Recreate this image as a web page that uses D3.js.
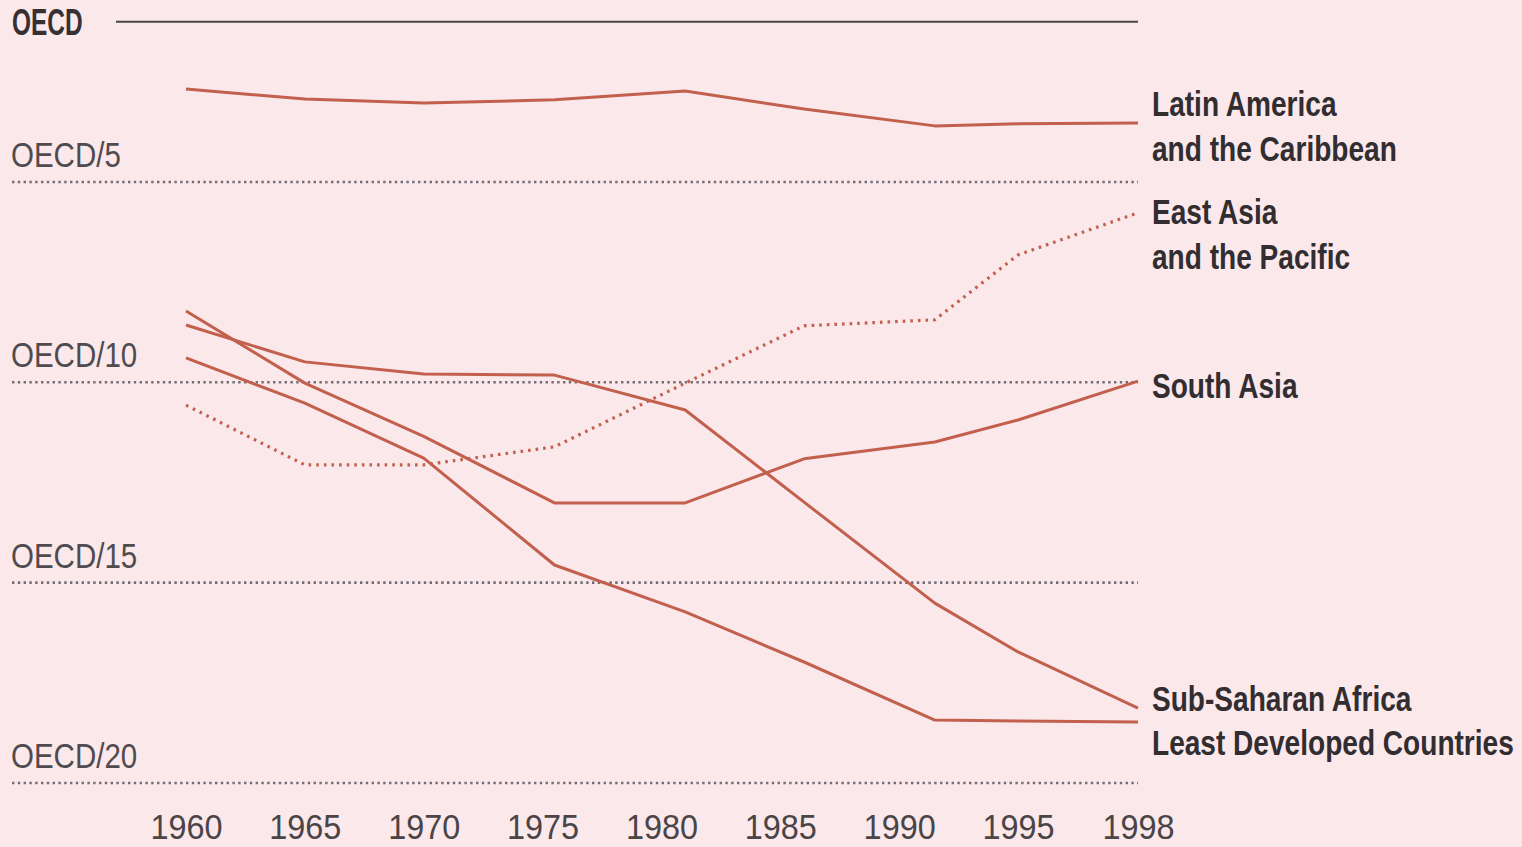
<!DOCTYPE html>
<html>
<head>
<meta charset="utf-8">
<script src="https://cdn.jsdelivr.net/npm/d3@7"></script>
<style>
  body { margin: 0; background: #fae8eb; }
  svg { display: block; }
  .narrow { font-family: "Liberation Sans", Arial, sans-serif; }
</style>
</head>
<body>
<script>
/* Data: GDP per capita expressed as a fraction of the OECD level (OECD/n) */
var years = [1960, 1965, 1970, 1975.5, 1981, 1986, 1991.5, 1995, 1998];
var latinAmerica = [2.68, 2.93, 3.03, 2.95, 2.73, 3.18, 3.60, 3.55, 3.53];
var eastAsia = [10.57, 12.06, 12.06, 11.61, 10.02, 8.59, 8.44, 6.82, 5.77];
var southAsia = [8.22, 10.02, 11.35, 13.01, 13.01, 11.91, 11.49, 10.94, 9.97];
var subSaharanAfrica = [8.57, 9.49, 9.79, 9.82, 10.69, 12.99, 15.51, 16.73, 18.13];
var leastDeveloped = [9.39, 10.52, 11.89, 14.56, 15.73, 16.98, 18.43, 18.45, 18.48];

var tickYears = [1960, 1965, 1970, 1975, 1980, 1985, 1990, 1995, 1998];
var levels = [5, 10, 15, 20];
var levelLabels = ["OECD/5", "OECD/10", "OECD/15", "OECD/20"];

var seriesList = [
	{name: "Latin America", values: latinAmerica, dotted: false},
	{name: "East Asia", values: eastAsia, dotted: true},
	{name: "South Asia", values: southAsia, dotted: false},
	{name: "Sub-Saharan Africa", values: subSaharanAfrica, dotted: false},
	{name: "Least Developed Countries", values: leastDeveloped, dotted: false}
];

// right hand labels, one entry per text line
var labelLines = [
	{text: "Latin America", y: 116},
	{text: "and the Caribbean", y: 161},
	{text: "East Asia", y: 224},
	{text: "and the Pacific", y: 269},
	{text: "South Asia", y: 398},
	{text: "Sub-Saharan Africa", y: 711},
	{text: "Least Developed Countries", y: 755}
];

/* Display setup */
var width = 1522, height = 847,
	lineColor = "#c2604d",
	x = d3.scaleLinear().domain([1960, 1995, 1998]).range([186, 1018, 1138]),
	y = d3.scaleLinear().domain([1, 20]).range([21.7, 783]),
	svg = d3.select("body").append("svg")
		.attr("width", width)
		.attr("height", height);

// squeeze text horizontally around its anchor point
function squeeze(x0, k) {
	return "translate(" + x0 + ",0) scale(" + k + ",1) translate(" + (-x0) + ",0)";
}

svg.append("rect").attr("width", width).attr("height", height).style("fill", "#fae8eb");

/* OECD reference line */
svg.append("line")
	.attr("x1", 116).attr("x2", x(1998))
	.attr("y1", y(1)).attr("y2", y(1))
	.style("stroke", "#4a4446").style("stroke-width", 2);

svg.append("text")
	.attr("class", "narrow")
	.attr("x", 12).attr("y", y(1) + 13)
	.attr("transform", squeeze(12, 0.66))
	.style("font-size", "37px").style("font-weight", "bold").style("fill", "#363033")
	.text("OECD");

/* Dotted levels */
var grid = svg.append("g");
grid.selectAll("line")
	.data(levels)
	.enter().append("line")
		.attr("x1", 12).attr("x2", x(1998))
		.attr("y1", function(d) { return y(d); })
		.attr("y2", function(d) { return y(d); })
		.style("stroke", "#736d77")
		.style("stroke-width", 2.6)
		.style("stroke-dasharray", "2.4,3.4");

grid.selectAll("text")
	.data(levels)
	.enter().append("text")
		.attr("class", "narrow")
		.attr("x", 11)
		.attr("y", function(d) { return y(d) - 15; })
		.attr("transform", squeeze(11, 0.82))
		.style("font-size", "36px").style("fill", "#504b4e")
		.text(function(d, i) { return levelLabels[i]; });

/* Axis */
var xAxis = d3.axisBottom(x)
	.tickValues(tickYears)
	.tickSize(0)
	.tickPadding(0)
	.tickFormat(d3.format("d"));

var axisG = svg.append("g")
	.attr("transform", "translate(0,813)")
	.attr("font-family", null).attr("font-size", null)
	.call(xAxis);
axisG.select(".domain").remove();
axisG.selectAll("text")
	.attr("class", "narrow")
	.attr("dy", "0.71em")
	.attr("transform", "scale(0.9,1)")
	.style("font-size", "36px")
	.style("fill", "#4a4446");

/* Lines */
var line = d3.line()
	.x(function(d, i) { return x(years[i]); })
	.y(function(d) { return y(d); });

svg.append("g").selectAll("path")
	.data(seriesList)
	.enter().append("path")
		.attr("d", function(d) { return line(d.values); })
		.style("fill", "none")
		.style("stroke", lineColor)
		.style("stroke-width", function(d) { return d.dotted ? 3.2 : 3; })
		.style("stroke-dasharray", function(d) { return d.dotted ? "2.6,5" : null; })
		.style("stroke-linejoin", "round");

/* Series labels */
svg.append("g").selectAll("text")
	.data(labelLines)
	.enter().append("text")
		.attr("class", "narrow")
		.attr("x", 1152)
		.attr("y", function(d) { return d.y; })
		.attr("transform", squeeze(1152, 0.78))
		.style("font-size", "36px").style("font-weight", "bold").style("fill", "#322d30")
		.text(function(d) { return d.text; });
</script>
</body>
</html>
